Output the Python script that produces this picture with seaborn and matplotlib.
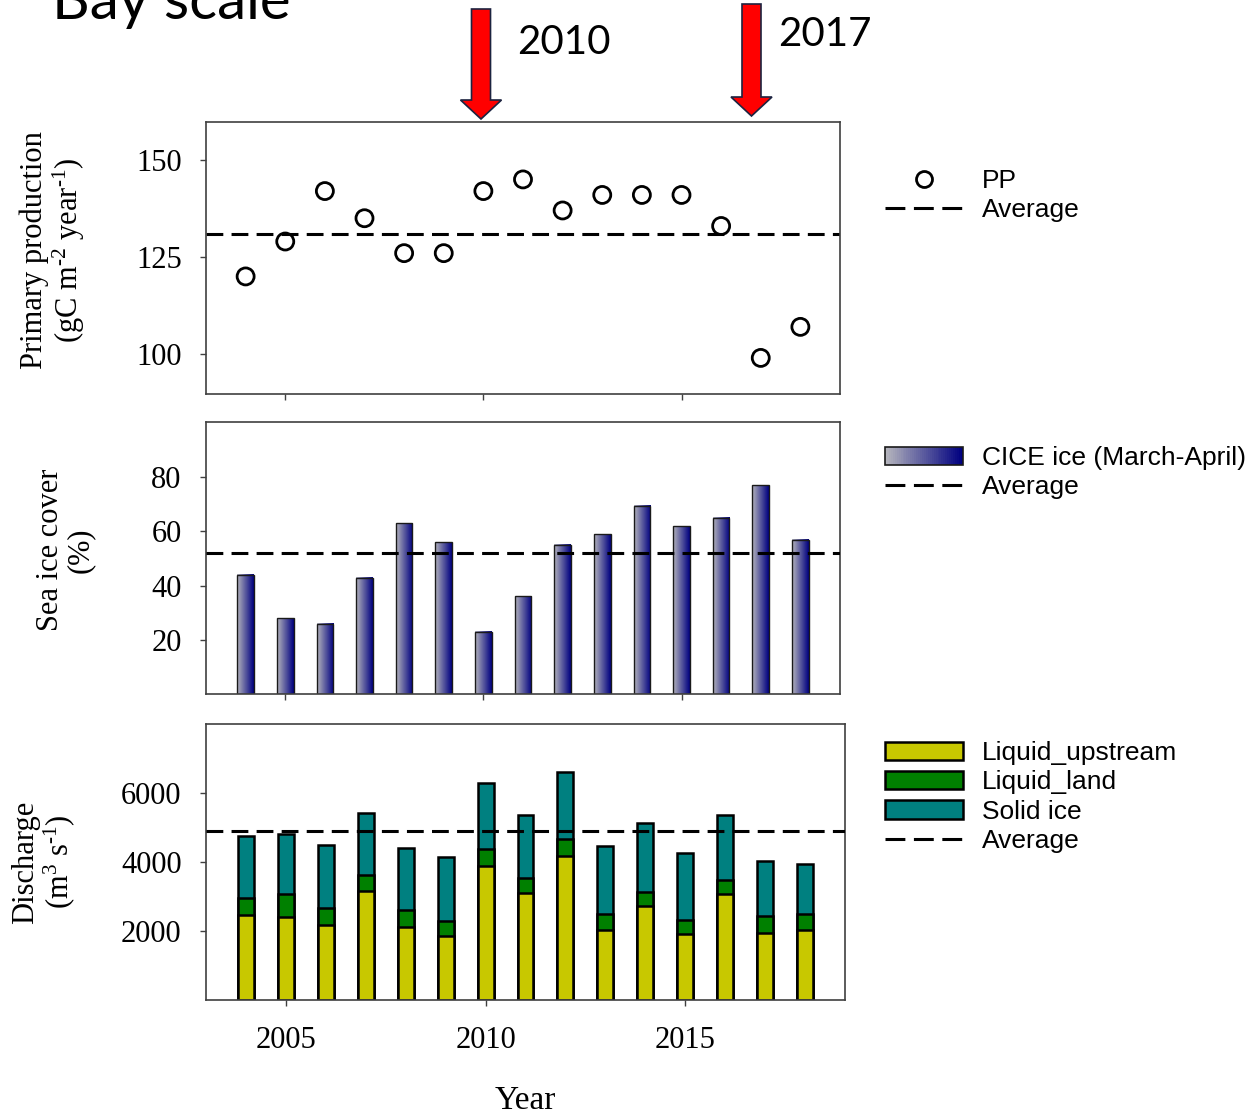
import numpy as np
import pandas as pd
import matplotlib
matplotlib.use("Agg")
import matplotlib.pyplot as plt
import matplotlib.transforms as mtransforms
import seaborn as sns
from matplotlib.patches import Rectangle, Patch, Polygon
from matplotlib.lines import Line2D
from matplotlib.legend_handler import HandlerBase
from matplotlib.colors import LinearSegmentedColormap
from matplotlib.font_manager import FontProperties

# ---------------- data ----------------
years = list(range(2004, 2019))
primary_production = [120, 129, 142, 135, 126, 126, 142, 145, 137, 141, 141, 141, 133, 99, 107]
pp_average = 131

sea_ice_cover = [44, 28, 26, 43, 63, 56, 23, 36, 55, 59, 69.5, 62, 65, 77, 57]
ice_average = 52

liquid_upstream = [2460, 2400, 2170, 3160, 2130, 1850, 3870, 3090, 4180, 2030, 2730, 1910, 3060, 1950, 2030]
liquid_land = [510, 670, 510, 450, 480, 440, 510, 450, 490, 450, 410, 410, 430, 490, 450]
solid_ice = [1770, 1730, 1810, 1800, 1810, 1850, 1910, 1830, 1950, 1970, 1980, 1950, 1870, 1600, 1470]
discharge_average = 4900

year_ticks = [2005, 2010, 2015]
pp_ticks = [100, 125, 150]
ice_ticks = [20, 40, 60, 80]
discharge_ticks = [2000, 4000, 6000]

df = pd.DataFrame({
    "year": years,
    "pp": primary_production,
    "ice": sea_ice_cover,
    "upstream": liquid_upstream,
    "land": liquid_land,
    "solid": solid_ice,
})
df["upstream_land"] = df["upstream"] + df["land"]
df["total"] = df["upstream_land"] + df["solid"]

# ---------------- style ----------------
sns.set_style("ticks")
plt.rcParams.update({
    "font.family": ["Liberation Serif", "DejaVu Serif"],
    "text.color": "black",
    "axes.labelcolor": "black",
    "mathtext.fontset": "custom",
    "mathtext.rm": "Liberation Serif",
    "mathtext.it": "Liberation Serif:italic",
    "mathtext.bf": "Liberation Serif:bold",
    "axes.edgecolor": "#404040",
    "axes.linewidth": 1.2,
    "xtick.color": "#404040",
    "ytick.color": "#404040",
    "xtick.labelcolor": "black",
    "ytick.labelcolor": "black",
    "xtick.major.size": 4.5,
    "ytick.major.size": 4.5,
    "xtick.major.width": 1.0,
    "ytick.major.width": 1.0,
    "xtick.labelsize": 22,
    "ytick.labelsize": 22,
    "axes.labelsize": 22,
})

W, H = 1248, 1114
fig = plt.figure(figsize=(W / 100, H / 100), dpi=100)
fig.patch.set_facecolor("white")

ax1 = fig.add_axes([206 / W, 1 - 394 / H, 634 / W, 272 / H])
ax2 = fig.add_axes([206 / W, 1 - 694 / H, 634 / W, 272 / H])
ax3 = fig.add_axes([206 / W, 1 - 1000 / H, 639 / W, 276 / H])

DASH = (5.5, 2.7)
legend_font = FontProperties(family="Liberation Sans", size=19)
ice_cmap = LinearSegmentedColormap.from_list("ice", ["#b4b4bc", "#000080"])

# ---------------- primary production ----------------
sns.scatterplot(data=df, x="year", y="pp", ax=ax1, marker="o", s=150,
                facecolors="none", edgecolor="black", linewidth=2.0, zorder=3)
ax1.axhline(pp_average, color="black", lw=2.2, dashes=DASH, zorder=2)
ax1.set_ylim(89.7, 159.8)
ax1.set_yticks(pp_ticks)
ax1.set_ylabel("Primary production\n(gC m$^{\\text{-2}}$ year$^{\\text{-1}}$)", linespacing=1.05)
ax1.yaxis.set_label_coords(-0.188, 0.53)

# ---------------- sea ice cover ----------------
sns.barplot(data=df, x="year", y="ice", ax=ax2, native_scale=True, width=0.42,
            color="#000080", edgecolor="#1a1a1a", linewidth=1.0, errorbar=None,
            zorder=2)
grad = np.linspace(0, 1, 64).reshape(1, -1)
for bar in list(ax2.patches):
    x0, y0 = bar.get_x(), bar.get_y()
    w, h = bar.get_width(), bar.get_height()
    ax2.imshow(grad, extent=[x0, x0 + w, y0, y0 + h], aspect="auto",
               cmap=ice_cmap, origin="lower", zorder=2, interpolation="bilinear")
    bar.set_facecolor("none")
    bar.set_zorder(2.5)
ax2.axhline(ice_average, color="black", lw=2.2, dashes=DASH, zorder=3)
ax2.set_ylim(0, 100.4)
ax2.set_yticks(ice_ticks)
ax2.set_ylabel("Sea ice cover\n(%)", linespacing=1.05)
ax2.yaxis.set_label_coords(-0.175, 0.53)

# ---------------- discharge (stacked) ----------------
stack = [("total", "#008080"), ("upstream_land", "#008000"), ("upstream", "#c8c800")]
for col, colr in stack:
    sns.barplot(data=df, x="year", y=col, ax=ax3, native_scale=True, width=0.4,
                color=colr, saturation=1, edgecolor="black", linewidth=1.8,
                errorbar=None, zorder=2)
ax3.axhline(discharge_average, color="black", lw=2.2, dashes=DASH, zorder=3)
ax3.set_ylim(0, 8000)
ax3.set_yticks(discharge_ticks)
ax3.set_ylabel("Discharge\n(m$^{3}$ s$^{\\text{-1}}$)", linespacing=1.05)
ax3.yaxis.set_label_coords(-0.202, 0.5)
ax3.set_xlabel("Year", fontsize=24, labelpad=22)

for ax in (ax1, ax2, ax3):
    ax.set_xlim(2003, 2019)
    ax.set_xticks(year_ticks)
    ax.tick_params(axis="y", pad=13)
    ax.tick_params(axis="x", pad=14)
    for s in ax.spines.values():
        s.set_visible(True)
        s.set_color("#404040")
for ax in (ax1, ax2):
    ax.set_xlabel("")
    ax.tick_params(axis="x", labelbottom=False)
ax3.set_xticklabels([str(y) for y in year_ticks])


# ---------------- legends ----------------
class GradientHandler(HandlerBase):
    def create_artists(self, legend, orig_handle, xdescent, ydescent,
                       width, height, fontsize, trans):
        n = 40
        arts = []
        for i in range(n):
            r = Rectangle((-xdescent + i * width / n, -ydescent), width / n + 0.3, height,
                          facecolor=ice_cmap(i / (n - 1)), edgecolor="none",
                          transform=trans)
            arts.append(r)
        arts.append(Rectangle((-xdescent, -ydescent), width, height, fill=False,
                              edgecolor="#1a1a1a", lw=1.2, transform=trans))
        return arts


avg_handle = Line2D([], [], color="black", lw=2.2, dashes=(6.5, 2.8))
common = dict(loc="upper left", bbox_transform=fig.transFigure, frameon=False,
              prop=legend_font, handlelength=2.95, handleheight=0.7,
              handletextpad=0.73, labelspacing=0.2, borderpad=0, borderaxespad=0,
              labelcolor="black")

pp_handle = Line2D([], [], marker="o", ls="none", mfc="none", mec="black",
                   ms=11.5, mew=2.0)
ax1.legend([pp_handle, avg_handle], ["PP", "Average"],
           bbox_to_anchor=(885 / W, 1 - 169 / H), **common)

ice_handle = Patch()
ax2.legend([ice_handle, avg_handle], ["CICE ice (March-April)", "Average"],
           handler_map={Patch: GradientHandler()},
           bbox_to_anchor=(885 / W, 1 - 446 / H), **common)

dis_handles = [Patch(facecolor=c, edgecolor="black", lw=1.8)
               for c in ("#c8c800", "#008000", "#008080")] + [avg_handle]
ax3.legend(dis_handles, ["Liquid_upstream", "Liquid_land", "Solid ice", "Average"],
           bbox_to_anchor=(885 / W, 1 - 741 / H), **common)

# ---------------- header: title and year arrows ----------------
px = mtransforms.Affine2D().scale(1 / W, -1 / H).translate(0, 1) + fig.transFigure


def down_arrow(cx, top, tip, shaft=9.5, head=20.5, head_len=19):
    base = tip - head_len
    verts = [(cx - shaft, top), (cx + shaft, top), (cx + shaft, base),
             (cx + head, base), (cx, tip), (cx - head, base), (cx - shaft, base)]
    fig.add_artist(Polygon(verts, closed=True, transform=px, facecolor="#ff0000",
                           edgecolor="#1c2340", lw=1.2))


down_arrow(481, 9, 119)
down_arrow(751.5, 4, 116)

fig.text(517 / W, 1 - 42.5 / H, "2010", family="Lato", fontsize=29,
         ha="left", va="center", color="black")
fig.text(778 / W, 1 - 35 / H, "2017", family="Lato", fontsize=29,
         ha="left", va="center", color="black")
fig.text(52 / W, 1 - 19 / H, "Bay scale", family="Lato", fontsize=42,
         ha="left", va="baseline", color="black")

fig.savefig("out.png", dpi=100)
